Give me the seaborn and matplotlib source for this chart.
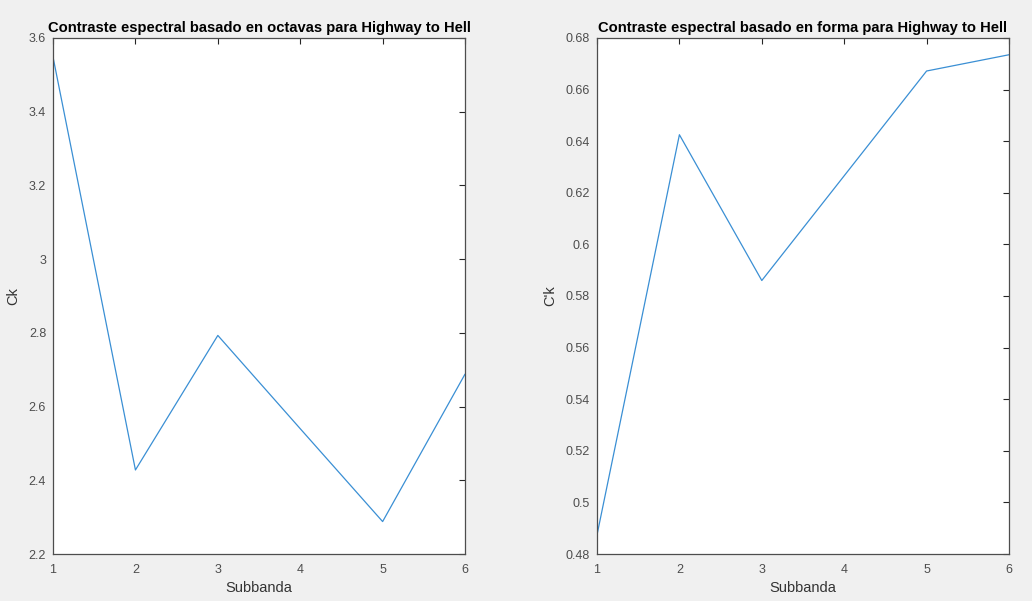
import numpy as np
import pandas as pd
import seaborn as sns
import matplotlib.pyplot as plt
from matplotlib.ticker import FuncFormatter

# values
subbanda = [1, 2, 3, 4, 5, 6]
ck_octavas = [3.548, 2.428, 2.793, 2.540, 2.288, 2.688]
ck_forma = [0.4874, 0.6425, 0.5860, 0.6266, 0.6672, 0.6735]

titulos = ['Contraste espectral basado en octavas para Highway to Hell',
           'Contraste espectral basado en forma para Highway to Hell']
ylabels = ['Ck', "C'k"]
ylims = [(2.2, 3.6), (0.48, 0.68)]
yticks = [np.arange(2.2, 3.61, 0.2), np.arange(0.48, 0.681, 0.02)]

sns.set_style("white")
plt.rcParams['font.family'] = ['Liberation Sans', 'DejaVu Sans']

fig = plt.figure(figsize=(10.32, 6.01), dpi=100, facecolor='#f0f0f0')
ax1 = fig.add_axes([0.0514, 0.0782, 0.3992, 0.8586])
ax2 = fig.add_axes([0.5785, 0.0782, 0.3992, 0.8586])

for ax, vals, tit, yl, lim, yt in zip([ax1, ax2], [ck_octavas, ck_forma],
                                      titulos, ylabels, ylims, yticks):
    df = pd.DataFrame({'Subbanda': subbanda, 'val': vals})
    sns.lineplot(data=df, x='Subbanda', y='val', ax=ax, color='#3a8fd4', linewidth=0.9)
    ax.set_facecolor('white')
    ax.set_xlim(1, 6)
    ax.set_ylim(*lim)
    ax.set_xticks(subbanda)
    ax.set_yticks(yt)
    ax.yaxis.set_major_formatter(FuncFormatter(lambda v, p: '{:g}'.format(round(v, 4))))
    ax.tick_params(direction='in', length=4, width=0.8, color='#262626',
                   labelsize=9, labelcolor='#4d4d4d', top=True, right=True)
    ax.tick_params(axis='x', pad=7)
    ax.tick_params(axis='y', pad=5)
    for s in ax.spines.values():
        s.set_color('#4d4d4d')
        s.set_linewidth(0.9)
    ax.set_title(tit, fontsize=10.6, fontweight='bold', color='black', pad=4)
    ax.set_xlabel('Subbanda', fontsize=10.5, color='#333333', labelpad=4)
    ax.set_ylabel(yl, fontsize=10.5, color='#333333', labelpad=6)

fig.savefig('out.png', dpi=100, facecolor=fig.get_facecolor())
